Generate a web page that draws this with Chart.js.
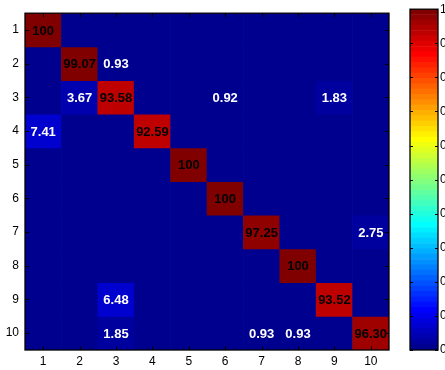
<!DOCTYPE html>
<html><head><meta charset="utf-8">
<script src="https://cdn.jsdelivr.net/npm/chart.js@4"></script>
<style>body{margin:0;background:#fff;overflow:hidden;width:445px;height:370px} canvas{position:absolute;top:0}</style>
</head><body>
<canvas id="main" width="400" height="370" style="left:0"></canvas>
<canvas id="cb" width="45" height="370" style="left:400px"></canvas>
<script>
// ---- data (percent) ----
const classLabels = ['1','2','3','4','5','6','7','8','9','10'];
const row1  = [100, 0, 0, 0, 0, 0, 0, 0, 0, 0];
const row2  = [0, 99.07, 0.93, 0, 0, 0, 0, 0, 0, 0];
const row3  = [0, 3.67, 93.58, 0, 0, 0.92, 0, 0, 1.83, 0];
const row4  = [7.41, 0, 0, 92.59, 0, 0, 0, 0, 0, 0];
const row5  = [0, 0, 0, 0, 100, 0, 0, 0, 0, 0];
const row6  = [0, 0, 0, 0, 0, 100, 0, 0, 0, 0];
const row7  = [0, 0, 0, 0, 0, 0, 97.25, 0, 0, 2.75];
const row8  = [0, 0, 0, 0, 0, 0, 0, 100, 0, 0];
const row9  = [0, 0, 6.48, 0, 0, 0, 0, 0, 93.52, 0];
const row10 = [0, 0, 1.85, 0, 0, 0, 0.93, 0.93, 0, 96.30];
const rows = [row1,row2,row3,row4,row5,row6,row7,row8,row9,row10];
const colorbarTicks = [0,0.1,0.2,0.3,0.4,0.5,0.6,0.7,0.8,0.9,1];

// MATLAB jet(64)
function uval(i){ if(i<1||i>47) return 0; if(i<=16) return i/16; if(i<=31) return 1; return (48-i)/16; }
function jet64(k){
  const r=Math.round(255*uval(k-24)), g=Math.round(255*uval(k-8)), b=Math.round(255*uval(k+8));
  return `rgb(${r},${g},${b})`;
}
function colorFor(p){ return jet64(Math.min(Math.floor(p/100*64),63)+1); }
function fmt(p){ return Number.isInteger(p) ? String(p) : p.toFixed(2); }

const FONT = '"Liberation Sans", Arial, Helvetica, sans-serif';

const datasets = rows.map((row, ri) => ({
  label: 'row'+(ri+1),
  data: row.map(() => [ri+0.5, ri+1.5]),
  backgroundColor: row.map(colorFor),
  borderWidth: 0,
  borderSkipped: false,
  barPercentage: 1.0,
  categoryPercentage: 1.0,
  grouped: false
}));

const mainPlugin = {
  id: 'mainDeco',
  afterDatasetsDraw(chart){
    const {ctx, scales:{x, y}} = chart;
    ctx.save();
    ctx.font = 'bold 13px ' + FONT;
    ctx.textAlign = 'center';
    ctx.textBaseline = 'middle';
    rows.forEach((row, ri) => row.forEach((v, ci) => {
      if (v === 0) return;
      ctx.fillStyle = v > 50 ? '#000' : '#fff';
      ctx.fillText(fmt(v), x.getPixelForValue(ci), y.getPixelForValue(ri+1) + 1);
    }));
    ctx.restore();
  },
  afterDraw(chart){
    const {ctx, chartArea:a, scales:{x, y}} = chart;
    ctx.save();
    ctx.strokeStyle = '#000';
    ctx.lineWidth = 1;
    ctx.beginPath();
    classLabels.forEach((l, i) => {
      const px = Math.round(x.getPixelForValue(i)) + 0.5;
      ctx.moveTo(px, a.top); ctx.lineTo(px, a.top + 4);
      ctx.moveTo(px, a.bottom); ctx.lineTo(px, a.bottom - 4);
      const py = Math.round(y.getPixelForValue(i+1)) + 0.5;
      ctx.moveTo(a.left, py); ctx.lineTo(a.left + 4, py);
      ctx.moveTo(a.right, py); ctx.lineTo(a.right - 4, py);
    });
    ctx.stroke();
    ctx.lineWidth = 1.3;
    ctx.strokeRect(a.left, a.top, a.right - a.left, a.bottom - a.top);
    ctx.restore();
  }
};

new Chart(document.getElementById('main'), {
  type: 'bar',
  data: { labels: classLabels, datasets },
  options: {
    responsive: false, animation: false, devicePixelRatio: 1,
    layout: { padding: { top: 8, right: 11, left: 0, bottom: 0 } },
    plugins: { legend: { display: false }, tooltip: { enabled: false } },
    scales: {
      x: {
        type: 'category',
        grid: { display: false, drawTicks: false },
        border: { display: false },
        ticks: { color: '#000', font: { family: FONT, size: 12 }, padding: 4, maxRotation: 0 },
        afterFit(s){ s.height = 20; }
      },
      y: {
        type: 'linear', reverse: true, min: 0.5, max: 10.5,
        grid: { display: false, drawTicks: false },
        border: { display: false },
        ticks: { color: '#000', font: { family: FONT, size: 12 }, padding: 6,
                 callback: v => classLabels[v-1] },
        afterBuildTicks(s){ s.ticks = classLabels.map((l,i) => ({ value: i+1 })); },
        afterFit(s){ s.width = 25; }
      }
    }
  },
  plugins: [mainPlugin]
});

// ---- colorbar ----
const cbDatasets = [];
for (let k = 1; k <= 64; k++) {
  cbDatasets.push({
    data: [[(k-1)/64, k/64]],
    backgroundColor: jet64(k),
    borderWidth: 0, borderSkipped: false,
    barPercentage: 1.0, categoryPercentage: 1.0, grouped: false
  });
}
const cbPlugin = {
  id: 'cbDeco',
  afterDraw(chart){
    const {ctx, chartArea:a, scales:{y}} = chart;
    ctx.save();
    ctx.strokeStyle = '#000';
    ctx.lineWidth = 1;
    ctx.beginPath();
    colorbarTicks.forEach(t => {
      const py = Math.round(y.getPixelForValue(t)) + 0.5;
      ctx.moveTo(a.left, py); ctx.lineTo(a.left + 3, py);
      ctx.moveTo(a.right, py); ctx.lineTo(a.right - 3, py);
    });
    ctx.stroke();
    ctx.lineWidth = 1.3;
    ctx.strokeRect(a.left, a.top, a.right - a.left, a.bottom - a.top);
    ctx.restore();
  }
};
new Chart(document.getElementById('cb'), {
  type: 'bar',
  data: { labels: [''], datasets: cbDatasets },
  options: {
    responsive: false, animation: false, devicePixelRatio: 1,
    layout: { padding: { top: 8, left: 10, right: 0, bottom: 20 } },
    plugins: { legend: { display: false }, tooltip: { enabled: false } },
    scales: {
      x: { display: false },
      y: {
        type: 'linear', position: 'right', min: 0, max: 1,
        grid: { display: false, drawTicks: false },
        border: { display: false },
        ticks: { color: '#000', font: { family: FONT, size: 12 }, padding: 2,
                 callback: v => String(Number(v.toFixed(1))) },
        afterBuildTicks(s){ s.ticks = colorbarTicks.map(v => ({ value: v })); },
        afterFit(s){ s.width = 7; }
      }
    }
  },
  plugins: [cbPlugin]
});
</script>
</body></html>
